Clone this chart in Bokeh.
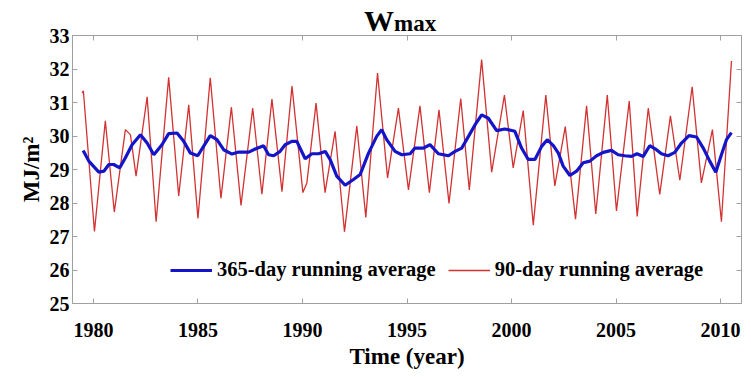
from bokeh.plotting import figure
from bokeh.models import Range1d, LinearAxis, Legend, FixedTicker, Div, CustomJSTickFormatter
from bokeh.layouts import column
from bokeh.embed import file_html
from bokeh.resources import INLINE

# 90-day running average (read extrema and shoulders from the picture)
red_year = [1979.46, 1979.52, 1980.05, 1980.57, 1981.00, 1981.53, 1981.77, 1982.04,
            1982.57, 1983.00, 1983.60, 1984.08, 1984.56, 1985.00, 1985.59, 1986.10,
            1986.60, 1987.06, 1987.62, 1988.06, 1988.54, 1989.02, 1989.50, 1990.02,
            1990.21, 1990.65, 1991.08, 1991.56, 1992.01, 1992.60, 1993.03, 1993.59,
            1994.07, 1994.59, 1995.07, 1995.62, 1996.07, 1996.53, 1997.01, 1997.57,
            1997.98, 1998.57, 1999.05, 1999.66, 2000.08, 2000.56, 2001.04, 2001.64,
            2002.07, 2002.57, 2003.06, 2003.59, 2004.03, 2004.58, 2005.02, 2005.63,
            2006.01, 2006.54, 2007.09, 2007.60, 2008.05, 2008.64, 2009.08, 2009.61,
            2010.04, 2010.52]
red_value = [31.28, 31.35, 27.15, 30.45, 27.73, 30.19, 30.04, 28.80,
             31.17, 27.44, 31.75, 28.21, 30.93, 27.54, 31.74, 28.14,
             30.86, 27.93, 30.83, 28.26, 31.10, 28.34, 31.49, 28.31,
             28.60, 30.98, 28.31, 30.14, 27.14, 30.30, 27.57, 31.88,
             28.75, 30.83, 28.39, 30.90, 28.31, 30.78, 27.99, 31.12,
             28.39, 32.28, 28.92, 31.22, 29.05, 30.76, 27.34, 31.22,
             28.51, 30.28, 27.52, 30.90, 27.67, 31.22, 27.76, 31.04,
             27.60, 30.83, 28.26, 30.60, 28.68, 31.47, 28.60, 30.19,
             27.44, 32.24]

# 365-day running average
blue_year = [1979.51, 1979.78, 1980.26, 1980.50, 1980.74, 1980.97, 1981.26, 1981.53,
             1981.85, 1982.25, 1982.57, 1982.89, 1983.28, 1983.60, 1984.00, 1984.32,
             1984.64, 1984.99, 1985.27, 1985.59, 1985.91, 1986.23, 1986.63, 1986.95,
             1987.43, 1987.74, 1988.14, 1988.38, 1988.62, 1988.93, 1989.17, 1989.49,
             1989.73, 1990.13, 1990.45, 1990.77, 1991.09, 1991.32, 1991.64, 1992.04,
             1992.44, 1992.76, 1993.16, 1993.55, 1993.79, 1994.03, 1994.43, 1994.75,
             1995.15, 1995.38, 1995.78, 1996.10, 1996.50, 1996.98, 1997.30, 1997.62,
             1997.94, 1998.25, 1998.57, 1998.89, 1999.29, 1999.68, 2000.16, 2000.48,
             2000.80, 2001.12, 2001.44, 2001.71, 2002.00, 2002.24, 2002.47, 2002.79,
             2003.11, 2003.43, 2003.75, 2004.07, 2004.39, 2004.78, 2005.10, 2005.42,
             2005.74, 2006.00, 2006.30, 2006.61, 2006.93, 2007.17, 2007.49, 2007.81,
             2008.13, 2008.49, 2008.85, 2009.17, 2009.48, 2009.77, 2010.04, 2010.28,
             2010.52]
blue_value = [29.57, 29.25, 28.92, 28.95, 29.15, 29.15, 29.05, 29.35,
              29.74, 30.04, 29.79, 29.44, 29.74, 30.07, 30.09, 29.84,
              29.49, 29.41, 29.69, 30.01, 29.89, 29.59, 29.46, 29.52,
              29.52, 29.61, 29.71, 29.44, 29.41, 29.54, 29.74, 29.84,
              29.84, 29.32, 29.47, 29.47, 29.54, 29.30, 28.80, 28.53,
              28.70, 28.85, 29.49, 29.99, 30.19, 29.89, 29.54, 29.44,
              29.47, 29.64, 29.64, 29.74, 29.47, 29.41, 29.54, 29.64,
              29.99, 30.33, 30.63, 30.53, 30.16, 30.21, 30.14, 29.64,
              29.30, 29.30, 29.69, 29.89, 29.71, 29.49, 29.10, 28.82,
              28.95, 29.20, 29.25, 29.41, 29.51, 29.57, 29.44, 29.41,
              29.39, 29.47, 29.39, 29.71, 29.59, 29.47, 29.41, 29.51,
              29.79, 30.01, 29.97, 29.64, 29.25, 28.92, 29.44, 29.89,
              30.10]

x_ticks = [1980, 1985, 1990, 1995, 2000, 2005, 2010]
y_ticks = [25, 26, 27, 28, 29, 30, 31, 32, 33]

FONT = "Liberation Serif"
GRAY = "#a0a0a0"

title = Div(
    text=('<div style="position:relative;left:364px;top:3px;white-space:nowrap;'
          'font-family:\'Liberation Serif\';font-weight:bold;color:black;line-height:35px;">'
          '<span style="font-size:30px;">W</span>'
          '<span style="font-size:23px;">max</span></div>'),
    width=742, height=38, margin=(0, 0, 0, 0))

p = figure(width=742, height=352, output_backend="svg", toolbar_location=None,
           x_range=Range1d(1979, 2011), y_range=Range1d(25, 33),
           min_border_left=72, min_border_right=1, min_border_top=16, min_border_bottom=66,
           margin=(-19, 0, 0, 0))
p.background_fill_color = "white"
p.border_fill_alpha = 0
p.outline_line_color = GRAY
p.xgrid.visible = False
p.ygrid.visible = False

blank = CustomJSTickFormatter(code="return ''")

def style_axis(ax, ticks, show_labels):
    ax.ticker = FixedTicker(ticks=ticks)
    ax.axis_line_color = GRAY
    ax.major_tick_line_color = GRAY
    ax.major_tick_in = 5
    ax.major_tick_out = 0
    ax.minor_tick_line_color = None
    ax.major_label_text_font = FONT
    ax.major_label_text_font_style = "bold"
    ax.major_label_text_color = "black"
    ax.major_label_text_font_size = "20px"
    if not show_labels:
        ax.formatter = blank
        ax.major_label_standoff = 0
        ax.major_label_text_font_size = "1px"

style_axis(p.xaxis[0], x_ticks, True)
style_axis(p.yaxis[0], y_ticks, True)
p.xaxis[0].major_label_standoff = 19
p.yaxis[0].major_label_standoff = 3
p.xaxis[0].axis_label = "Time (year)"
p.yaxis[0].axis_label = "MJ/m\u00b2"
for ax in (p.xaxis[0], p.yaxis[0]):
    ax.axis_label_text_font = FONT
    ax.axis_label_text_font_style = "bold"
    ax.axis_label_text_font_size = "23px"
    ax.axis_label_text_color = "black"
p.xaxis[0].axis_label_standoff = 4
p.yaxis[0].axis_label_standoff = 3

top_ax = LinearAxis()
style_axis(top_ax, x_ticks, False)
p.add_layout(top_ax, "above")
right_ax = LinearAxis()
style_axis(right_ax, y_ticks, False)
p.add_layout(right_ax, "right")

red_r = p.line(red_year, red_value, line_color="#d23232", line_width=1.3)
blue_r = p.line(blue_year, blue_value, line_color="#1414c8", line_width=3.2)

legend = Legend(items=[("365-day running average", [blue_r]),
                       ("90-day running average", [red_r])],
                orientation="horizontal", location=(98, 22),
                label_text_font=FONT, label_text_font_style="bold",
                label_text_font_size="20.5px", label_text_color="black",
                glyph_width=42, label_standoff=5, spacing=12,
                padding=0, margin=0, border_line_alpha=0, background_fill_alpha=0)
p.add_layout(legend)

layout = column(title, p, spacing=0)
open("out.html", "w").write(file_html(layout, INLINE))
